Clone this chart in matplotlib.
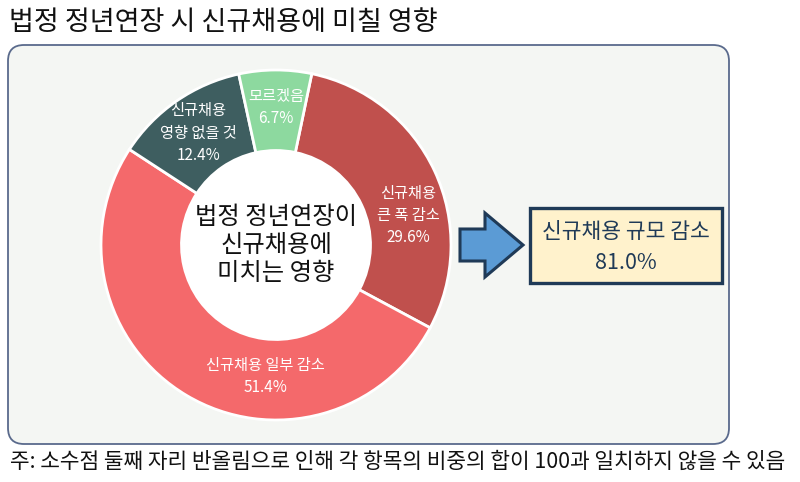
import matplotlib
matplotlib.use('Agg')
import matplotlib.pyplot as plt
from matplotlib.patches import FancyBboxPatch, Rectangle, FancyArrow, Circle

plt.rcParams['font.family'] = ['Noto Sans CJK KR', 'DejaVu Sans']

# data
labels = ['신규채용\n큰 폭 감소', '신규채용 일부 감소', '신규채용\n영향 없을 것', '모르겠음']
shares = [29.6, 51.4, 12.4, 6.7]
colors = ['#C0504D', '#F4696B', '#3E5E60', '#8DD99F']
title = '법정 정년연장 시 신규채용에 미칠 영향'
center_text = '법정 정년연장이\n신규채용에\n미치는 영향'
summary_label = '신규채용 규모 감소'
summary_value = 81.0
note = '주: 소수점 둘째 자리 반올림으로 인해 각 항목의 비중의 합이 100과 일치하지 않을 수 있음'

# label spots inside the ring (pie axes units)
label_pos = [(0.755, 0.17), (-0.06, -0.75), (-0.445, 0.64), (0.0, 0.785)]

W, H = 800, 482
fig = plt.figure(figsize=(W / 100, H / 100), dpi=100)

# pixel canvas
bg = fig.add_axes([0, 0, 1, 1])
bg.set_xlim(0, W)
bg.set_ylim(H, 0)
bg.axis('off')

bg.text(9, 22, title, fontsize=19.5, color='#111111', va='center', ha='left')

frame = FancyBboxPatch((8, 45), 721, 399, boxstyle='round,pad=0,rounding_size=16',
                       fc='#F4F6F3', ec='#5A6A8C', lw=1.3)
bg.add_patch(frame)

bg.text(10, 462, note, fontsize=15.4, color='#111111', va='center', ha='left')

# arrow + summary box
bg.add_patch(FancyArrow(460, 245, 63, 0, width=32, head_width=64, head_length=38,
                        length_includes_head=True, fc='#5B9BD5', ec='#1F3A57', lw=2.2,
                        joinstyle='miter'))
bg.add_patch(Rectangle((530, 208), 192, 75, fc='#FFF2CC', ec='#1F3A57', lw=2.4))
bg.text(626, 232, summary_label, fontsize=15.5, color='#1F3A57', ha='center', va='center')
bg.text(626, 263, f'{summary_value:.1f}%', fontsize=15.5, color='#1F3A57',
        ha='center', va='center')

# donut
cx, cy, R = 276, 245, 175
pax = fig.add_axes([(cx - R) / W, (H - cy - R) / H, 2 * R / W, 2 * R / H])
pax.set_xlim(-1, 1)
pax.set_ylim(-1, 1)
pax.axis('off')
pax.pie(shares, colors=colors, startangle=78.2, counterclock=False, radius=1.0,
        wedgeprops=dict(width=0.46, edgecolor='white', linewidth=2))
pax.add_patch(Circle((0, 0), 0.54, fc='white', ec='none'))
pax.set_xlim(-1, 1)
pax.set_ylim(-1, 1)

for lab, val, (x, y) in zip(labels, shares, label_pos):
    pax.text(x, y, f'{lab}\n{val:.1f}%', fontsize=11, color='white',
             ha='center', va='center', linespacing=1.4)

pax.text(0, 0, center_text, fontsize=17.5, color='#111111', ha='center', va='center',
         linespacing=1.1, fontweight='medium')

fig.savefig('out.png', dpi=100)
